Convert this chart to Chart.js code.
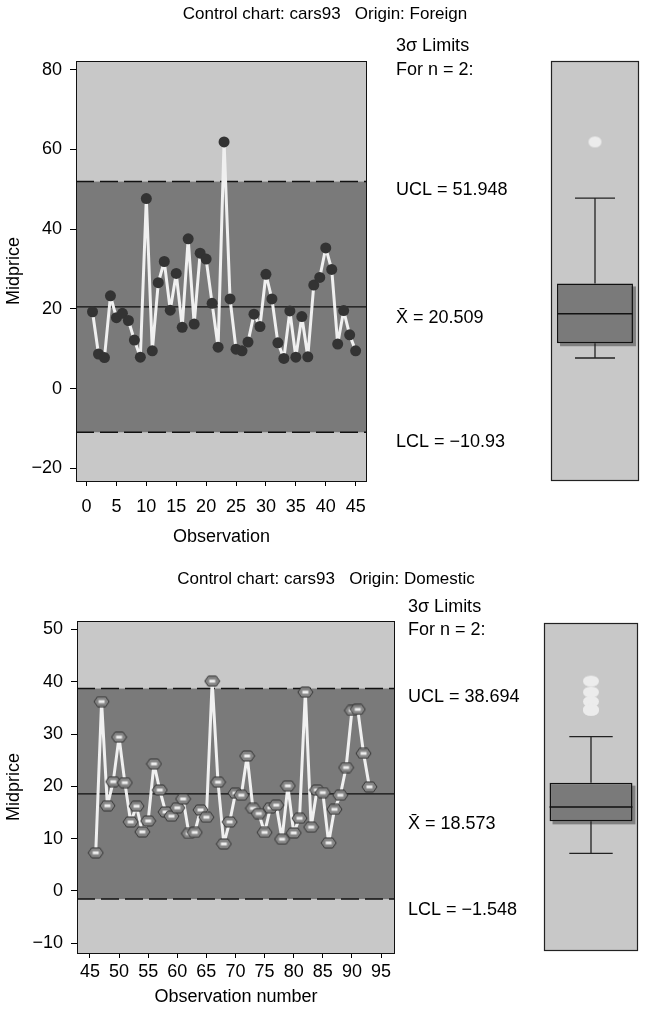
<!DOCTYPE html>
<html><head><meta charset="utf-8">
<script src="https://cdn.jsdelivr.net/npm/chart.js@4.4.0/dist/chart.umd.min.js"></script>
<style>
html,body{margin:0;padding:0;background:#fff;}
body{width:649px;height:1015px;position:relative;overflow:hidden;}
canvas{position:absolute;}
</style></head><body>
<canvas id="mainA" width="540" height="560" style="left:0px;top:0px"></canvas>
<canvas id="boxA" width="100" height="432" style="left:545px;top:55px"></canvas>
<canvas id="mainB" width="540" height="455" style="left:0px;top:560px"></canvas>
<canvas id="boxB" width="106" height="340" style="left:538px;top:617px"></canvas>
<script>
// ---------- DATA ----------
const obsForeign = [1,2,3,4,5,6,7,8,9,10,11,12,13,14,15,16,17,18,19,20,21,22,23,24,25,26,27,28,29,30,31,32,33,34,35,36,37,38,39,40,41,42,43,44,45];
const valsForeign = [19.3,8.7,7.8,23.3,17.8,18.9,17.1,12.2,7.9,47.7,9.5,26.6,31.9,19.7,28.9,15.4,37.6,16.2,34.0,32.5,21.4,10.4,61.9,22.5,9.9,9.5,11.7,18.7,15.6,28.7,22.5,11.5,7.6,19.5,7.9,18.1,8.0,26.0,27.9,35.3,29.9,11.2,19.6,13.5,9.5];
const obsDomestic = [46,47,48,49,50,51,52,53,54,55,56,57,58,59,60,61,62,63,64,65,66,67,68,69,70,71,72,73,74,75,76,77,78,79,80,81,82,83,84,85,86,87,88,89,90,91,92,93];
const valsDomestic = [7.3,36.2,16.3,20.9,29.4,20.7,13.2,16.2,11.3,13.4,24.3,19.3,15.1,14.3,15.9,17.6,11.0,11.2,15.5,14.1,40.1,20.8,9.0,13.2,18.7,18.3,25.8,15.8,14.8,11.2,15.9,16.4,9.9,20.1,11.1,13.9,38.0,12.2,19.3,18.8,9.2,15.6,18.3,23.6,34.5,34.7,26.3,19.9];

// control limits: [UCL, center, LCL]
const limitsForeign = [51.948, 20.509, -10.93];
const limitsDomestic = [38.694, 18.573, -1.548];
const limitLabelsForeign = ['UCL = 51.948', 'X\u0304 = 20.509', 'LCL = \u221210.93'];
const limitLabelsDomestic = ['UCL = 38.694', 'X\u0304 = 18.573', 'LCL = \u22121.548'];

// box plot stats: [lower whisker, Q1, median, Q3, upper whisker]
const boxStatsForeign = [7.7, 11.4, 18.8, 26.4, 47.8];
const boxOutliersForeign = [61.9];
const boxStatsDomestic = [7.2, 13.3, 16.05, 20.7, 29.5];
const boxOutliersDomestic = [40.1, 38.0, 36.2, 34.7, 34.5];

// tick labels
const xTicksForeign = [0,5,10,15,20,25,30,35,40,45];
const yTicksForeign = [-20,0,20,40,60,80];
const xTicksDomestic = [45,50,55,60,65,70,75,80,85,90,95];
const yTicksDomestic = [-10,0,10,20,30,40,50];

const titleForeign = 'Control chart: cars93   Origin: Foreign';
const titleDomestic = 'Control chart: cars93   Origin: Domestic';
const headerLines = ['3\u03c3 Limits', 'For n = 2:'];

// ---------- RENDERING ----------
const FONT = "'Liberation Sans', Arial, Helvetica, sans-serif";
Chart.defaults.font.family = FONT;
Chart.defaults.color = '#000';
const minus = v => String(v).replace('-', '\u2212');

function hexMarker(w, h) {
  const c = document.createElement('canvas');
  c.width = w + 2; c.height = h + 2;
  const g = c.getContext('2d');
  const cx = c.width / 2, cy = c.height / 2, k = 3.5;
  g.beginPath();
  g.moveTo(cx - w/2, cy);
  g.lineTo(cx - w/2 + k, cy - h/2);
  g.lineTo(cx + w/2 - k, cy - h/2);
  g.lineTo(cx + w/2, cy);
  g.lineTo(cx + w/2 - k, cy + h/2);
  g.lineTo(cx - w/2 + k, cy + h/2);
  g.closePath();
  g.fillStyle = '#858585'; g.fill();
  g.strokeStyle = '#333'; g.lineWidth = 1; g.stroke();
  g.fillStyle = '#eeeeee'; g.fillRect(cx - 3, cy - 1.5, 6, 3);
  return c;
}
function ellipseMarker(w, h, color) {
  const c = document.createElement('canvas');
  c.width = w + 2; c.height = h + 2;
  const g = c.getContext('2d');
  g.beginPath();
  g.ellipse(c.width/2, c.height/2, w/2, h/2, 0, 0, Math.PI * 2);
  g.fillStyle = color; g.fill();
  return c;
}

const controlPlugin = {
  id: 'control',
  beforeDatasetsDraw(chart, args, o) {
    const {ctx, chartArea: a, scales: {y}} = chart;
    ctx.save();
    ctx.fillStyle = '#c8c8c8';
    ctx.fillRect(a.left, a.top, a.width, a.height);
    const yU = y.getPixelForValue(o.limits[0]);
    const yC = y.getPixelForValue(o.limits[1]);
    const yL = y.getPixelForValue(o.limits[2]);
    ctx.fillStyle = '#7a7a7a';
    ctx.fillRect(a.left, yU, a.width, yL - yU);
    const hl = (py) => { ctx.beginPath(); ctx.moveTo(a.left, py); ctx.lineTo(a.right, py); ctx.stroke(); };
    ctx.strokeStyle = '#111'; ctx.lineWidth = 1.5;
    ctx.setLineDash([18, 6]);
    hl(yU); hl(yL);
    ctx.setLineDash([]);
    ctx.lineWidth = 1.3;
    hl(yC);
    ctx.restore();
  },
  afterDraw(chart, args, o) {
    const {ctx, chartArea: a, scales: {y}} = chart;
    ctx.save();
    ctx.strokeStyle = '#111'; ctx.lineWidth = 1;
    ctx.strokeRect(a.left + 0.5, a.top + 0.5, a.width - 1, a.height);
    ctx.fillStyle = '#000';
    ctx.textBaseline = 'middle';
    ctx.textAlign = 'center';
    ctx.font = '17px ' + FONT;
    ctx.fillText(o.title, o.titleX, o.titleY);
    ctx.textAlign = 'left';
    ctx.font = '18px ' + FONT;
    o.header.forEach((t, i) => ctx.fillText(t, o.sideX, o.headerY[i]));
    o.labels.forEach((t, i) => {
      ctx.fillText(t, o.sideX, y.getPixelForValue(o.limits[i]) + o.labelOffsets[i]);
    });
    ctx.restore();
  }
};

function makeMain(id, p) {
  return new Chart(document.getElementById(id), {
    type: 'line',
    data: { datasets: [{
      data: p.obs.map((x, i) => ({x: x, y: p.vals[i]})),
      borderColor: '#f0f0f0', borderWidth: 3, tension: 0, borderJoinStyle: 'round', borderCapStyle: 'round',
      pointStyle: p.pointStyle, pointRadius: p.pointRadius, pointHoverRadius: p.pointRadius,
      pointBackgroundColor: '#333', pointBorderColor: '#333', pointBorderWidth: 0
    }]},
    options: {
      responsive: false, maintainAspectRatio: false, animation: false, devicePixelRatio: 1,
      events: [],
      layout: { padding: { left: 0, top: p.padTop, right: p.padRight, bottom: 0 } },
      plugins: {
        legend: { display: false }, tooltip: { enabled: false },
        control: p.control
      },
      scales: {
        x: {
          type: 'linear', min: p.xMin, max: p.xMax,
          afterFit: s => { s.height = p.xAxisH; },
          afterBuildTicks: s => { s.ticks = p.xTicks.map(v => ({value: v})); },
          grid: { display: true, drawOnChartArea: false, drawTicks: true, tickLength: 5, color: '#000', lineWidth: 1 },
          border: { display: false },
          ticks: { color: '#000', font: { size: 18 }, padding: p.xTickPad, maxRotation: 0, autoSkip: false },
          title: { display: true, text: p.xTitle, color: '#000', font: { size: 18 }, padding: { top: 0, bottom: p.xTitlePad } }
        },
        y: {
          type: 'linear', min: p.yMin, max: p.yMax,
          afterFit: s => { s.width = p.yAxisW; },
          afterBuildTicks: s => { s.ticks = p.yTicks.map(v => ({value: v})); },
          grid: { display: true, drawOnChartArea: false, drawTicks: true, tickLength: 6, color: '#000', lineWidth: 1 },
          border: { display: false },
          ticks: { color: '#000', font: { size: 18 }, padding: 8, callback: v => minus(v) },
          title: { display: true, text: 'Midprice', color: '#000', font: { size: 18 }, padding: { top: 3, bottom: 0 } }
        }
      }
    },
    plugins: [controlPlugin]
  });
}

const boxPlugin = {
  id: 'boxplot',
  beforeDraw(chart) {
    const {ctx, chartArea: a} = chart;
    ctx.save();
    ctx.fillStyle = '#c8c8c8';
    ctx.fillRect(a.left, a.top, a.width, a.height);
    ctx.restore();
  },
  beforeDatasetsDraw(chart, args, o) {
    const {ctx, scales: {y}} = chart;
    const bar = chart.getDatasetMeta(1).data[0];
    const cx = bar.x;
    ctx.save();
    const top = Math.min(bar.y, bar.base), bot = Math.max(bar.y, bar.base);
    ctx.fillStyle = '#808080';
    ctx.fillRect(bar.x - bar.width / 2 + 3, top + 3, bar.width, bot - top);
    ctx.strokeStyle = '#222'; ctx.lineWidth = 1.3;
    const s = o.stats.map(v => y.getPixelForValue(v));
    ctx.beginPath();
    ctx.moveTo(cx, s[3]); ctx.lineTo(cx, s[4]);
    ctx.moveTo(cx, s[1]); ctx.lineTo(cx, s[0]);
    ctx.moveTo(cx - o.capHalf, s[4]); ctx.lineTo(cx + o.capHalf, s[4]);
    ctx.moveTo(cx - o.capHalf, s[0]); ctx.lineTo(cx + o.capHalf, s[0]);
    ctx.stroke();
    ctx.restore();
  },
  afterDatasetsDraw(chart, args, o) {
    const {ctx, scales: {y}} = chart;
    const bar = chart.getDatasetMeta(1).data[0];
    const ym = y.getPixelForValue(o.stats[2]);
    ctx.save();
    ctx.strokeStyle = '#111'; ctx.lineWidth = 1.5;
    ctx.beginPath();
    ctx.moveTo(bar.x - bar.width / 2, ym); ctx.lineTo(bar.x + bar.width / 2, ym);
    ctx.stroke();
    ctx.restore();
  },
  afterDraw(chart) {
    const {ctx, chartArea: a} = chart;
    ctx.save();
    ctx.strokeStyle = '#222'; ctx.lineWidth = 1.2;
    ctx.strokeRect(a.left + 0.5, a.top + 0.5, a.width - 1, a.height - 1);
    ctx.restore();
  }
};

function makeBox(id, p) {
  return new Chart(document.getElementById(id), {
    type: 'bar',
    data: { labels: ['box'], datasets: [
      { type: 'line', data: p.outliers.map(v => ({x: 'box', y: v})), showLine: false,
        pointStyle: p.outStyle, pointRadius: 5, pointHoverRadius: 5, order: 0 },
      { type: 'bar', data: [[p.stats[1], p.stats[3]]], backgroundColor: '#7a7a7a',
        borderColor: '#111', borderWidth: 1.5, borderSkipped: false,
        barPercentage: p.barPct, categoryPercentage: 1, order: 1 }
    ]},
    options: {
      responsive: false, maintainAspectRatio: false, animation: false, devicePixelRatio: 1,
      events: [],
      layout: { padding: p.pad },
      plugins: { legend: { display: false }, tooltip: { enabled: false },
        boxplot: { stats: p.stats, capHalf: p.capHalf } },
      scales: {
        x: { display: false },
        y: { display: false, min: p.yMin, max: p.yMax }
      }
    },
    plugins: [boxPlugin]
  });
}

makeMain('mainA', {
  obs: obsForeign, vals: valsForeign,
  pointStyle: 'circle', pointRadius: 5.5,
  padTop: 61, padRight: 173,
  xMin: -1.76, xMax: 46.9, yMin: -23.16, yMax: 82.2,
  xTicks: xTicksForeign, yTicks: yTicksForeign,
  xAxisH: 79, yAxisW: 76, xTickPad: 10, xTitlePad: 12, xTitle: 'Observation',
  control: { limits: limitsForeign, labels: limitLabelsForeign, labelOffsets: [8.5, 11, 10],
    title: titleForeign, titleX: 325, titleY: 14, header: headerLines, headerY: [46, 70], sideX: 396 }
});

makeMain('mainB', {
  obs: obsDomestic, vals: valsDomestic,
  pointStyle: hexMarker(15, 10), pointRadius: 5,
  padTop: 61, padRight: 145,
  xMin: 42.78, xMax: 97.4, yMin: -11.85, yMax: 51.6,
  xTicks: xTicksDomestic, yTicks: yTicksDomestic,
  xAxisH: 62, yAxisW: 77, xTickPad: 3, xTitlePad: 7, xTitle: 'Observation number',
  control: { limits: limitsDomestic, labels: limitLabelsDomestic, labelOffsets: [9, 30, 11],
    title: titleDomestic, titleX: 326, titleY: 19, header: headerLines, headerY: [47, 70], sideX: 408 }
});

makeBox('boxA', {
  stats: boxStatsForeign, outliers: boxOutliersForeign,
  outStyle: ellipseMarker(13, 11, '#ececec'),
  pad: { left: 4, right: 4, top: 6, bottom: 6 },
  yMin: -23.16, yMax: 82.2, barPct: 0.863, capHalf: 20
});

makeBox('boxB', {
  stats: boxStatsDomestic, outliers: boxOutliersDomestic,
  outStyle: ellipseMarker(16, 11, '#ececec'),
  pad: { left: 4, right: 4, top: 6, bottom: 6 },
  yMin: -11.47, yMax: 51.2, barPct: 0.882, capHalf: 21.7
});
</script>
</body></html>
